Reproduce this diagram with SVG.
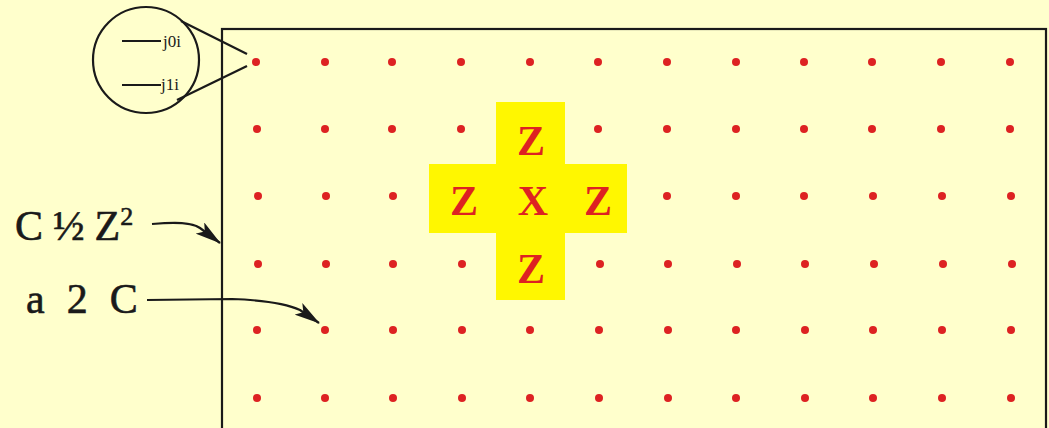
<svg xmlns="http://www.w3.org/2000/svg" width="1049" height="428" viewBox="0 0 1049 428">
<style>
.dot{fill:#DD2222}
.ln{stroke:#1a1a1a;stroke-width:2.2;fill:none}
.big{font-family:"Liberation Serif",serif;font-size:42px;font-weight:bold;fill:#DD2222;text-anchor:middle}
.lab{font-family:"Liberation Serif",serif;font-size:42px;fill:#1a1a1a;stroke:#1a1a1a;stroke-width:0.6}
.sm{font-family:"Liberation Serif",serif;font-size:17px;fill:#1a1a1a}
.yel{fill:#FFF700}
</style>
<defs>
<marker id="ah" viewBox="0 0 26 14" refX="25" refY="7" markerWidth="26" markerHeight="14" markerUnits="userSpaceOnUse" orient="auto">
<path d="M0,0 L26,7 L0,14 L6,7 Z" fill="#1a1a1a"/>
</marker>
</defs>
<rect width="1049" height="428" fill="#FFFFCC"/>
<g id="frame"><rect x="222" y="29" width="824" height="420" class="ln"/></g>
<g id="cross">
<rect class="yel" x="496" y="102" width="69" height="198"/>
<rect class="yel" x="429" y="164" width="198" height="69"/>
<text class="big" x="531" y="155">Z</text>
<text class="big" x="464" y="215">Z</text>
<text class="big" x="533" y="215">X</text>
<text class="big" x="598" y="215">Z</text>
<text class="big" x="531" y="283">Z</text>
</g>
<g id="dots">
<g id="r1">
<circle class="dot" cx="256" cy="62" r="4"/><circle class="dot" cx="325" cy="62" r="4"/><circle class="dot" cx="392" cy="62" r="4"/><circle class="dot" cx="461" cy="62" r="4"/><circle class="dot" cx="530" cy="62" r="4"/><circle class="dot" cx="598" cy="62" r="4"/><circle class="dot" cx="667" cy="62" r="4"/><circle class="dot" cx="736" cy="62" r="4"/><circle class="dot" cx="804" cy="62" r="4"/><circle class="dot" cx="872" cy="62" r="4"/><circle class="dot" cx="941" cy="62" r="4"/><circle class="dot" cx="1010" cy="62" r="4"/>
</g>
<g id="r2">
<circle class="dot" cx="257" cy="129" r="4"/><circle class="dot" cx="325" cy="129" r="4"/><circle class="dot" cx="392" cy="129" r="4"/><circle class="dot" cx="461" cy="129" r="4"/><circle class="dot" cx="598" cy="129" r="4"/><circle class="dot" cx="667" cy="129" r="4"/><circle class="dot" cx="736" cy="129" r="4"/><circle class="dot" cx="804" cy="129" r="4"/><circle class="dot" cx="872" cy="129" r="4"/><circle class="dot" cx="941" cy="129" r="4"/><circle class="dot" cx="1010" cy="129" r="4"/>
</g>
<g id="r3">
<circle class="dot" cx="258" cy="196" r="4"/><circle class="dot" cx="326" cy="196" r="4"/><circle class="dot" cx="393" cy="196" r="4"/><circle class="dot" cx="667" cy="196" r="4"/><circle class="dot" cx="736" cy="196" r="4"/><circle class="dot" cx="804" cy="196" r="4"/><circle class="dot" cx="873" cy="196" r="4"/><circle class="dot" cx="942" cy="196" r="4"/><circle class="dot" cx="1011" cy="196" r="4"/>
</g>
<g id="r4">
<circle class="dot" cx="258" cy="264" r="4"/><circle class="dot" cx="326" cy="264" r="4"/><circle class="dot" cx="393" cy="264" r="4"/><circle class="dot" cx="462" cy="264" r="4"/><circle class="dot" cx="600" cy="264" r="4"/><circle class="dot" cx="668" cy="264" r="4"/><circle class="dot" cx="737" cy="264" r="4"/><circle class="dot" cx="805" cy="264" r="4"/><circle class="dot" cx="874" cy="264" r="4"/><circle class="dot" cx="943" cy="264" r="4"/><circle class="dot" cx="1012" cy="264" r="4"/>
</g>
<g id="r5">
<circle class="dot" cx="257" cy="330" r="4"/><circle class="dot" cx="325" cy="330" r="4"/><circle class="dot" cx="393" cy="330" r="4"/><circle class="dot" cx="462" cy="330" r="4"/><circle class="dot" cx="530" cy="330" r="4"/><circle class="dot" cx="599" cy="330" r="4"/><circle class="dot" cx="668" cy="330" r="4"/><circle class="dot" cx="736" cy="330" r="4"/><circle class="dot" cx="805" cy="330" r="4"/><circle class="dot" cx="873" cy="330" r="4"/><circle class="dot" cx="942" cy="330" r="4"/><circle class="dot" cx="1011" cy="330" r="4"/>
</g>
<g id="r6">
<circle class="dot" cx="257" cy="398" r="4"/><circle class="dot" cx="325" cy="398" r="4"/><circle class="dot" cx="393" cy="398" r="4"/><circle class="dot" cx="462" cy="398" r="4"/><circle class="dot" cx="530" cy="398" r="4"/><circle class="dot" cx="599" cy="398" r="4"/><circle class="dot" cx="668" cy="398" r="4"/><circle class="dot" cx="736" cy="398" r="4"/><circle class="dot" cx="805" cy="398" r="4"/><circle class="dot" cx="873" cy="398" r="4"/><circle class="dot" cx="942" cy="398" r="4"/><circle class="dot" cx="1011" cy="398" r="4"/>
</g>
</g>
<g id="zoom-lens">
<circle cx="146" cy="60" r="53" class="ln"/>
<line x1="122" y1="41" x2="161" y2="41" class="ln"/>
<line x1="122" y1="85" x2="161" y2="85" class="ln"/>
<text class="sm" x="163" y="47">j0i</text>
<text class="sm" x="161" y="90">j1i</text>
</g>
<g id="labels">
<text class="lab" x="15" y="240">C<tspan dx="10">½</tspan><tspan dx="10">Z</tspan><tspan font-size="26" dy="-15">2</tspan></text>
<text class="lab" x="26" y="313">a<tspan dx="22">2</tspan><tspan dx="22">C</tspan></text>
</g>
<g id="connectors">
<line x1="181" y1="21" x2="247" y2="54" class="ln"/>
<line x1="177" y1="100" x2="247" y2="66" class="ln"/>
<path d="M152,224 C175,222 192,222 200,228 L220,243" class="ln" marker-end="url(#ah)"/>
<path d="M147,300 L232,299 C260,300 285,303 300,310 L319,323" class="ln" marker-end="url(#ah)"/>
</g>
</svg>
